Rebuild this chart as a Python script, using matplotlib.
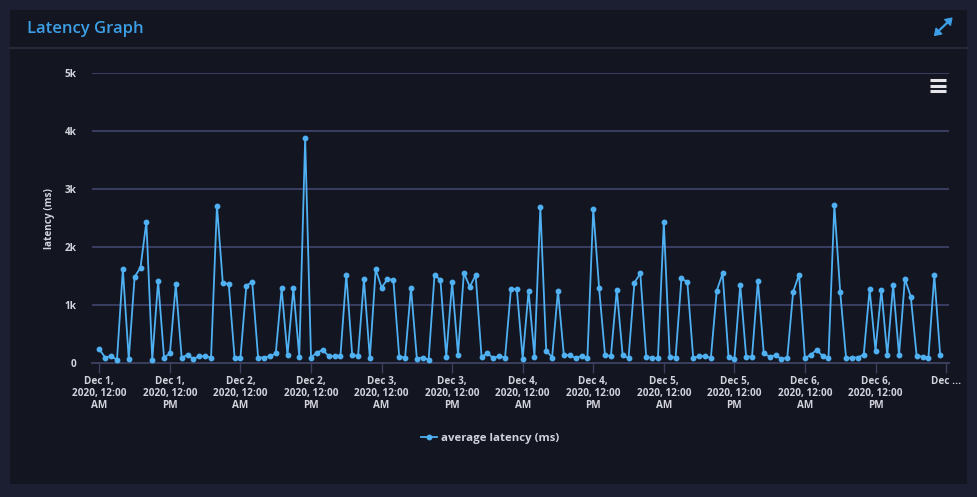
import numpy as np
import pandas as pd
import matplotlib as mpl
mpl.use('Agg')
import matplotlib.pyplot as plt
import matplotlib.dates as mdates
from matplotlib.patches import Rectangle, Polygon
from matplotlib.lines import Line2D
from matplotlib.ticker import FuncFormatter

# hourly average latency (ms), Dec 1 00:00 -> Dec 6 23:00
latency = [
    240, 100, 125, 60, 1620, 75, 1490, 1650, 2440, 60, 1420, 100,
    170, 1360, 100, 145, 75, 125, 120, 100, 2720, 1380, 1370, 100,
    100, 1340, 1400, 100, 100, 120, 170, 1290, 140, 1290, 115, 3880,
    100, 185, 230, 125, 125, 125, 1530, 150, 125, 1450, 90, 1620,
    1305, 1450, 1440, 115, 100, 1300, 80, 100, 60, 1520, 1440, 115,
    1400, 150, 1560, 1320, 1520, 115, 170, 90, 125, 100, 1280, 1280,
    80, 1250, 115, 2690, 220, 100, 1250, 140, 140, 90, 125, 90,
    2660, 1290, 140, 125, 1265, 140, 90, 1390, 1550, 115, 90, 90,
    2430, 115, 100, 1465, 1400, 90, 125, 125, 90, 1250, 1550, 115,
    70, 1350, 115, 115, 1420, 170, 115, 140, 75, 100, 1235, 1530,
    85, 150, 230, 125, 85, 2730, 1225, 85, 100, 100, 150, 1275,
    220, 1265, 140, 1350, 140, 1455, 1150, 125, 115, 100, 1520, 140,
]
series_name = 'average latency (ms)'
y_ticks = [0, 1000, 2000, 3000, 4000, 5000]

outer_bg = '#1c1f31'
panel_bg = '#131520'
blue = '#4fb0f2'
icon_blue = '#3d9fe6'
text_col = '#d2d3dc'
grid_col = '#393e62'

plt.rcParams['font.family'] = ['Open Sans', 'DejaVu Sans']

W, H = 977, 497
fig = plt.figure(figsize=(W / 100, H / 100), dpi=100, facecolor=outer_bg)


def fx(px):
    return px / W


def fy(py):
    return 1 - py / H


def fpt(px, py):
    return (fx(px), fy(py))


# card panel
fig.add_artist(Rectangle((fx(10), fy(484)), fx(957), (474) / H,
                         transform=fig.transFigure, facecolor=panel_bg,
                         edgecolor='none', zorder=0))
fig.add_artist(Line2D([fx(10), fx(967)], [fy(47.5), fy(47.5)],
                      transform=fig.transFigure, color='#262939', lw=1.5))
fig.text(fx(27), fy(29), 'Latency Graph', color=icon_blue, fontsize=12,
         fontweight='semibold', va='center', ha='left')

# expand icon: diagonal shaft with a head at each end
fig.add_artist(Line2D([fx(938), fx(948.5)], [fy(31.5), fy(21.5)],
                      transform=fig.transFigure, color=icon_blue, lw=1.6))
fig.add_artist(Polygon([fpt(952, 18), fpt(944.5, 19.5), fpt(950.5, 25.5)],
                       closed=True, transform=fig.transFigure,
                       facecolor=icon_blue, edgecolor=icon_blue, lw=0.8))
fig.add_artist(Polygon([fpt(934.5, 35.5), fpt(936, 28), fpt(942, 34)],
                       closed=True, transform=fig.transFigure,
                       facecolor=icon_blue, edgecolor=icon_blue, lw=0.8))
# hamburger menu icon
for yy in (79.5, 85.5, 91):
    fig.add_artist(Line2D([fx(930), fx(946)], [fy(yy), fy(yy)],
                          transform=fig.transFigure, color='#e6e6ea',
                          lw=2.2, solid_capstyle='butt'))

ax = fig.add_axes([fx(91.7), fy(363.3), fx(949 - 91.7), (363.3 - 73.3) / H])
ax.set_facecolor('none')

times = pd.date_range('2020-12-01', periods=len(latency), freq='h')
ax.plot(times, latency, color=blue, lw=1.3, marker='o', markersize=3.2,
        label=series_name, zorder=3)

start = times[0]
ax.set_xlim(start - pd.Timedelta(hours=1.3), start + pd.Timedelta(hours=144.5))
ax.set_ylim(0, 5000)

ticks = pd.date_range('2020-12-01', '2020-12-07', freq='12h')
labels = [f"{t:%b} {t.day},\n{t.year}, 12:00\n{'AM' if t.hour == 0 else 'PM'}"
          for t in ticks[:-1]] + ['Dec ...']
ax.set_xticks(mdates.date2num(ticks))
ax.set_xticklabels(labels, fontsize=7.2, fontweight='bold',
                   color=text_col, linespacing=1.15)

ax.set_yticks(y_ticks)
ax.yaxis.set_major_formatter(FuncFormatter(
    lambda v, p: '0' if v == 0 else f'{int(v / 1000)}k'))
for lab in ax.get_yticklabels():
    lab.set_fontweight('bold')
ax.tick_params(axis='y', length=0, pad=11, labelsize=7.2, labelcolor=text_col)
ax.tick_params(axis='x', length=7, width=1, color='#3a3f5c', pad=2)

ax.grid(axis='y', color=grid_col, lw=1.4)
ax.set_axisbelow(True)
for side in ('top', 'right', 'left'):
    ax.spines[side].set_visible(False)
ax.spines['bottom'].set_color('#3a3f5c')
ax.spines['bottom'].set_linewidth(1.4)

ax.set_ylabel('latency (ms)', color=text_col, fontsize=7.2,
              fontweight='bold', labelpad=7)

leg = ax.legend(loc='center',
                bbox_to_anchor=((490 - 91.7) / (949 - 91.7), (363.3 - 438) / (363.3 - 73.3)),
                frameon=False, handlelength=1.4, handletextpad=0.4,
                prop={'size': 8.2, 'weight': 'bold'})
for t in leg.get_texts():
    t.set_color(text_col)

fig.savefig('out.png', dpi=100, facecolor=outer_bg)
